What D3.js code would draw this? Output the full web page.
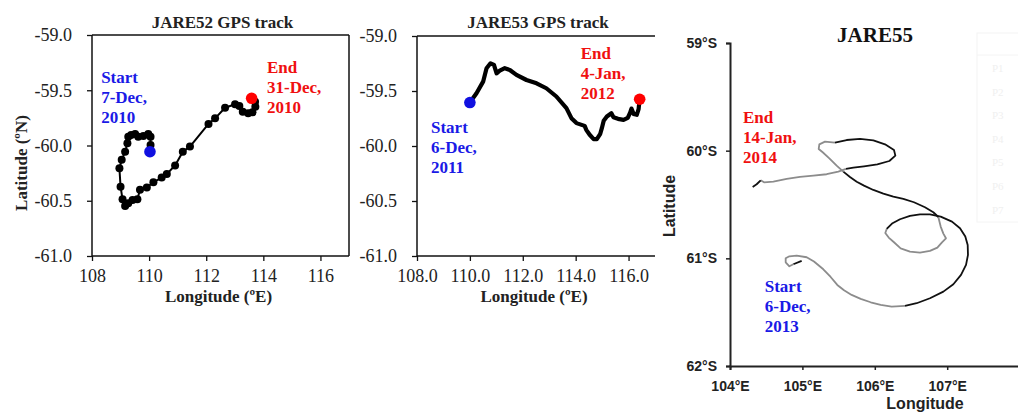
<!DOCTYPE html>
<html>
<head>
<meta charset="utf-8">
<script src="https://cdn.jsdelivr.net/npm/d3@7"></script>
<style>
  body { margin: 0; background: #fff; }
  svg { display: block; }
</style>
</head>
<body>
<svg id="chart" width="1018" height="412"></svg>
<script>
// JARE52 GPS fixes, 7-Dec to 31-Dec 2010
const jare52Lon = [110.03, 110.05, 110.05, 109.97, 109.80, 109.62, 109.51, 109.37, 109.27, 109.24,
  109.16, 109.04, 108.96, 109.00, 109.07, 109.16, 109.27, 109.42, 109.59, 109.68,
  109.92, 110.15, 110.44, 110.62, 110.91, 111.18, 111.43, 112.08, 112.31, 112.66,
  113.01, 113.16, 113.28, 113.47, 113.62, 113.72, 113.71, 113.59];
const jare52Lat = [-60.056, -59.995, -59.92, -59.896, -59.914, -59.92, -59.895, -59.905, -59.92, -59.98,
  -60.056, -60.13, -60.206, -60.373, -60.487, -60.548, -60.523, -60.493, -60.487, -60.40,
  -60.38, -60.333, -60.29, -60.258, -60.18, -60.056, -60.01, -59.805, -59.754, -59.658,
  -59.627, -59.643, -59.694, -59.709, -59.70, -59.649, -59.603, -59.573];

// JARE53 GPS track, 6-Dec-2011 to 4-Jan-2012
const jare53Lon = [110.00, 110.25, 110.50, 110.63, 110.78, 110.91, 111.01, 111.13, 111.32, 111.51,
  111.76, 112.14, 112.52, 112.89, 113.27, 113.65, 113.84, 114.03, 114.34, 114.40,
  114.53, 114.68, 114.80, 114.93, 114.99, 115.06, 115.18, 115.35, 115.43, 115.60,
  115.81, 115.97, 116.06, 116.11, 116.19, 116.31, 116.38, 116.40, 116.42];
const jare53Lat = [-59.605, -59.52, -59.415, -59.293, -59.248, -59.263, -59.339, -59.315, -59.293, -59.309,
  -59.354, -59.40, -59.43, -59.475, -59.55, -59.656, -59.747, -59.792, -59.817, -59.853,
  -59.898, -59.937, -59.937, -59.889, -59.838, -59.771, -59.732, -59.702, -59.738, -59.753,
  -59.762, -59.744, -59.696, -59.66, -59.708, -59.717, -59.665, -59.617, -59.575];

// JARE55 track, 6-Dec-2013 to 14-Jan-2014
const jare55Lon = [104.99, 104.875, 104.82, 104.769, 104.769, 104.82, 104.921, 105.059, 105.160, 105.289,
  105.390, 105.482, 105.575, 105.680, 105.805, 105.943, 106.081, 106.233, 106.417, 106.578,
  106.762, 106.947, 107.085, 107.191, 107.260, 107.287, 107.283, 107.250, 107.177, 107.066,
  106.910, 106.762, 106.624, 106.486, 106.348, 106.238, 106.164, 106.145, 106.192, 106.265,
  106.357, 106.486, 106.624, 106.762, 106.864, 106.928, 106.983, 106.947, 106.910, 106.891,
  106.878, 106.808, 106.693, 106.541, 106.394, 106.256, 106.118, 105.980, 105.851, 105.750,
  105.657, 105.565, 105.473, 105.372, 105.280, 105.225, 105.234, 105.312, 105.450, 105.611,
  105.796, 105.980, 106.141, 106.265, 106.284, 106.201, 106.035, 105.851, 105.704, 105.602,
  105.496, 105.335, 105.151, 104.967, 104.783, 104.599, 104.470, 104.424, 104.368, 104.313];
const jare55Lat = [-61.024, -61.055, -61.074, -61.037, -60.999, -60.981, -60.974, -60.990, -61.030, -61.102,
  -61.173, -61.247, -61.297, -61.340, -61.377, -61.408, -61.433, -61.448, -61.442, -61.417,
  -61.371, -61.309, -61.241, -61.154, -61.061, -60.968, -60.876, -60.798, -60.721, -60.659,
  -60.613, -60.591, -60.591, -60.606, -60.637, -60.677, -60.727, -60.764, -60.807, -60.851,
  -60.907, -60.937, -60.947, -60.931, -60.900, -60.851, -60.814, -60.770, -60.705, -60.653,
  -60.616, -60.572, -60.526, -60.479, -60.448, -60.427, -60.399, -60.365, -60.325, -60.288,
  -60.244, -60.195, -60.139, -60.071, -60.015, -59.984, -59.941, -59.916, -59.925, -59.901,
  -59.891, -59.904, -59.941, -59.994, -60.046, -60.096, -60.127, -60.145, -60.158, -60.170,
  -60.195, -60.219, -60.232, -60.244, -60.263, -60.288, -60.294, -60.275, -60.312, -60.337];
// indices where the track changes leg, and which legs are dark (1) or light (0)
const jare55Breaks = [0, 1, 18, 36, 50, 61, 68, 79, 87, 89];
const jare55Dark = [1, 0, 1, 0, 1, 0, 1, 0, 1];

const gpsLonTicks = [108, 110, 112, 114, 116];
const gpsLatTicks = [-61, -60.5, -60, -59.5, -59];
const jare55LonTicks = [104, 105, 106, 107];
const jare55LatTicks = [-59, -60, -61, -62];
const legendRows = ["P1", "P2", "P3", "P4", "P5", "P6", "P7"];

const serif = "'Liberation Serif', 'Times New Roman', serif";
const sans = "'Liberation Sans', Arial, sans-serif";
const svg = d3.select("#chart");

function zip(lons, lats) {
  return lons.map((d, i) => [d, lats[i]]);
}

// Adds the red/blue three line notes
function addNote(g, x, y, lines, color) {
  const t = g.append("text")
    .attr("x", x)
    .attr("y", y)
    .attr("fill", color)
    .style("font-family", serif)
    .style("font-weight", "bold")
    .style("font-size", "17px");
  lines.forEach((line, i) => {
    t.append("tspan").attr("x", x).attr("dy", i ? 20 : 0).text(line);
  });
}

function drawGpsPanel(cfg) {
  const g = svg.append("g");
  const x = d3.scaleLinear().domain([108, 117]).range([cfg.left, cfg.right]);
  const y = d3.scaleLinear().domain([-61, -59]).range([cfg.bottom, cfg.top]);

  // frame: left, top and bottom always, right only on the first panel
  const frame = [
    [cfg.left, cfg.top, cfg.left, cfg.bottom],
    [cfg.left, cfg.top, cfg.right, cfg.top],
    [cfg.left, cfg.bottom, cfg.right, cfg.bottom],
  ];
  if (cfg.closed) frame.push([cfg.right, cfg.top, cfg.right, cfg.bottom]);
  g.selectAll(".frame")
    .data(frame)
    .enter()
    .append("line")
    .attr("x1", (d) => d[0]).attr("y1", (d) => d[1])
    .attr("x2", (d) => d[2]).attr("y2", (d) => d[3])
    .attr("stroke", "#111")
    .attr("stroke-width", 1.5);

  const yAxis = d3.axisLeft(y)
    .tickValues(gpsLatTicks)
    .tickFormat((d) => d.toFixed(1))
    .tickSize(5)
    .tickPadding(15);
  const xAxis = d3.axisBottom(x)
    .tickValues(gpsLonTicks)
    .tickFormat(cfg.lonFormat)
    .tickSize(5)
    .tickPadding(8);

  [[yAxis, `translate(${cfg.left},0)`], [xAxis, `translate(0,${cfg.bottom})`]].forEach(([ax, tr]) => {
    const a = g.append("g").attr("transform", tr).call(ax);
    a.select(".domain").remove();
    a.attr("font-family", serif).attr("font-size", 18);
    a.selectAll("line").attr("stroke", "#111").attr("stroke-width", 1.3);
    a.selectAll("text").attr("fill", "#222");
  });

  const pts = zip(cfg.lon, cfg.lat);
  const line = d3.line().x((d) => x(d[0])).y((d) => y(d[1]));
  g.append("path")
    .datum(pts)
    .attr("d", line)
    .attr("fill", "none")
    .attr("stroke", "#000")
    .attr("stroke-width", cfg.lineWidth)
    .attr("stroke-linejoin", "round")
    .attr("stroke-linecap", "round");

  if (cfg.dots) {
    g.selectAll(".fix")
      .data(pts)
      .enter()
      .append("circle")
      .attr("cx", (d) => x(d[0]))
      .attr("cy", (d) => y(d[1]))
      .attr("r", 4)
      .attr("fill", "#000");
  }

  // start and end markers
  g.append("circle")
    .attr("cx", x(pts[0][0])).attr("cy", y(pts[0][1]))
    .attr("r", 5.8).attr("fill", "#1010e0");
  g.append("circle")
    .attr("cx", x(pts[pts.length - 1][0])).attr("cy", y(pts[pts.length - 1][1]))
    .attr("r", 5.8).attr("fill", "#ff0000");

  g.append("text")
    .attr("x", (cfg.left + cfg.right) / 2 + 2)
    .attr("y", 28)
    .attr("text-anchor", "middle")
    .style("font-family", serif)
    .style("font-weight", "bold")
    .style("font-size", "17px")
    .attr("fill", "#222")
    .text(cfg.title);

  g.append("text")
    .attr("x", (cfg.left + cfg.right) / 2 - 2)
    .attr("y", 302)
    .attr("text-anchor", "middle")
    .style("font-family", serif)
    .style("font-weight", "bold")
    .style("font-size", "17px")
    .attr("fill", "#222")
    .text("Longitude (ºE)");

  if (cfg.yTitle) {
    g.append("text")
      .attr("transform", "translate(27,163) rotate(-90)")
      .attr("text-anchor", "middle")
      .style("font-family", serif)
      .style("font-weight", "bold")
      .style("font-size", "17px")
      .attr("fill", "#222")
      .text(cfg.yTitle);
  }

  addNote(g, x(cfg.startAt[0]), y(cfg.startAt[1]), cfg.startText, "#1a1ae6");
  addNote(g, x(cfg.endAt[0]), y(cfg.endAt[1]), cfg.endText, "#f01010");
}

function drawJare55() {
  const g = svg.append("g");
  const x = d3.scaleLinear().domain([104, 108]).range([730, 1019.6]);
  const y = d3.scaleLinear().domain([-59, -62]).range([43, 366]);

  // faint table ghosted in from the source figure
  g.append("rect")
    .attr("x", 977).attr("y", 33).attr("width", 50).attr("height", 189)
    .attr("fill", "none").attr("stroke", "#f4f4f4");
  g.append("line")
    .attr("x1", 977).attr("x2", 1018).attr("y1", 55).attr("y2", 55)
    .attr("stroke", "#f4f4f4");
  g.selectAll(".prow")
    .data(legendRows)
    .enter()
    .append("text")
    .attr("x", 992)
    .attr("y", (d, i) => 72 + i * 23.6)
    .style("font-family", serif)
    .style("font-size", "11px")
    .attr("fill", "#f0f0f0")
    .text((d) => d);

  const yAxis = d3.axisLeft(y)
    .tickValues(jare55LatTicks)
    .tickFormat((d) => `${Math.abs(d)}°S`)
    .tickSize(4)
    .tickPadding(9);
  const xAxis = d3.axisBottom(x)
    .tickValues(jare55LonTicks)
    .tickFormat((d) => `${d}°E`)
    .tickSize(4)
    .tickPadding(11);

  [[yAxis, "translate(730,0)"], [xAxis, "translate(0,366)"]].forEach(([ax, tr]) => {
    const a = g.append("g").attr("transform", tr).call(ax);
    a.attr("font-family", sans).attr("font-size", 14).attr("font-weight", "bold");
    a.select(".domain").attr("stroke", "#222").attr("stroke-width", 2);
    a.selectAll("line").attr("stroke", "#222").attr("stroke-width", 1.5);
    a.selectAll("text").attr("fill", "#222");
  });

  const pts = zip(jare55Lon, jare55Lat);
  const line = d3.line().x((d) => x(d[0])).y((d) => y(d[1]));
  const legs = jare55Dark.map((dark, i) => ({
    dark: dark,
    pts: pts.slice(jare55Breaks[i], jare55Breaks[i + 1] + 1),
  }));
  g.selectAll(".leg")
    .data(legs)
    .enter()
    .append("path")
    .attr("d", (d) => line(d.pts))
    .attr("fill", "none")
    .attr("stroke", (d) => (d.dark ? "#111" : "#8c8c8c"))
    .attr("stroke-width", 1.8)
    .attr("stroke-linejoin", "round");

  g.append("text")
    .attr("x", 875).attr("y", 42)
    .attr("text-anchor", "middle")
    .style("font-family", serif)
    .style("font-weight", "bold")
    .style("font-size", "21px")
    .attr("fill", "#111")
    .text("JARE55");

  g.append("text")
    .attr("transform", "translate(675,206) rotate(-90)")
    .attr("text-anchor", "middle")
    .style("font-family", sans)
    .style("font-weight", "bold")
    .style("font-size", "16px")
    .attr("fill", "#222")
    .text("Latitude");

  g.append("text")
    .attr("x", 925).attr("y", 409)
    .attr("text-anchor", "middle")
    .style("font-family", sans)
    .style("font-weight", "bold")
    .style("font-size", "16px")
    .attr("fill", "#222")
    .text("Longitude");

  addNote(g, x(104.18), y(-59.743), ["End", "14-Jan,", "2014"], "#f01010");
  addNote(g, x(104.48), y(-61.312), ["Start", "6-Dec,", "2013"], "#1a1ae6");
}

drawGpsPanel({
  title: "JARE52 GPS track",
  yTitle: "Latitude (ºN)",
  lon: jare52Lon,
  lat: jare52Lat,
  left: 92, right: 349, top: 35, bottom: 256,
  closed: true,
  dots: true,
  lineWidth: 2,
  lonFormat: (d) => d,
  startAt: [108.32, -59.434],
  startText: ["Start", "7-Dec,", "2010"],
  endAt: [114.13, -59.344],
  endText: ["End", "31-Dec,", "2010"],
});

drawGpsPanel({
  title: "JARE53 GPS track",
  lon: jare53Lon,
  lat: jare53Lat,
  left: 417, right: 655, top: 36, bottom: 256,
  closed: false,
  dots: false,
  lineWidth: 4.2,
  lonFormat: (d) => d.toFixed(1),
  startAt: [108.53, -59.88],
  startText: ["Start", "6-Dec,", "2011"],
  endAt: [114.19, -59.209],
  endText: ["End", "4-Jan,", "2012"],
});

drawJare55();
</script>
</body>
</html>
